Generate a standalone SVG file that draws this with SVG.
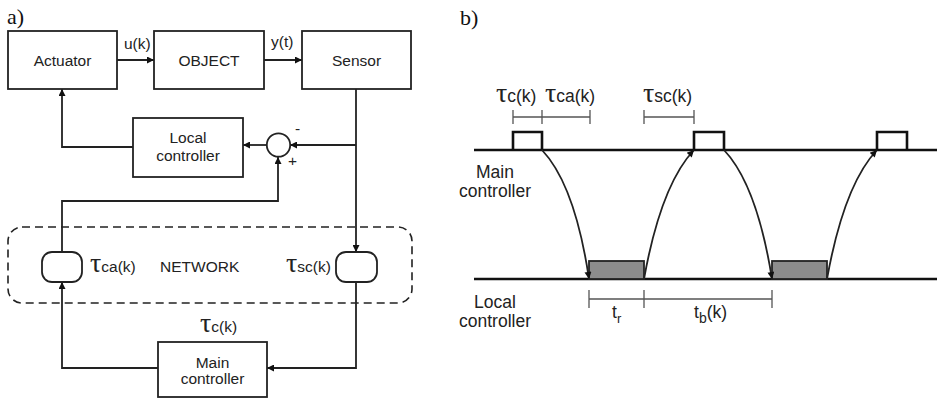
<svg xmlns="http://www.w3.org/2000/svg" width="937" height="399" viewBox="0 0 937 399">
<defs>
<style>
.box{fill:#fff;stroke:#222;stroke-width:1.8}
.ln{fill:none;stroke:#222;stroke-width:1.8}
.tl{fill:none;stroke:#111;stroke-width:2.6}
.dim{fill:none;stroke:#555;stroke-width:1.3}
.t{font-family:"Liberation Sans",Arial,sans-serif;font-size:15.5px;fill:#222}
.tr{font-family:"Liberation Sans",Arial,sans-serif;font-size:17.5px;fill:#222}
.tau{font-family:"Liberation Serif","Times New Roman",serif;font-size:28px}
.lab{font-family:"Liberation Serif","Times New Roman",serif;font-size:22px;fill:#111}
</style>
<marker id="ah" viewBox="0 0 10 10" refX="10" refY="5" markerWidth="9" markerHeight="7" markerUnits="userSpaceOnUse" orient="auto">
<path d="M0,0 L10,5 L0,10 z" fill="#111"/>
</marker>
</defs>
<rect width="937" height="399" fill="#fff"/>
<text class="lab" x="7" y="24">a)</text>
<text class="lab" x="460" y="25">b)</text>

<g id="connectors">
<path class="ln" d="M117,60 H154" marker-end="url(#ah)"/>
<path class="ln" d="M264,60 H302" marker-end="url(#ah)"/>
<path class="ln" d="M356,89 V252" marker-end="url(#ah)"/>
<path class="ln" d="M356,145 H290" marker-end="url(#ah)"/>
<path class="ln" d="M266,145 H243" marker-end="url(#ah)"/>
<path class="ln" d="M133,147 H62 V89" marker-end="url(#ah)"/>
<path class="ln" d="M62,252 V201 H278 V157" marker-end="url(#ah)"/>
<path class="ln" d="M158,368 H62 V282" marker-end="url(#ah)"/>
<path class="ln" d="M356,282 V368 H267" marker-end="url(#ah)"/>
</g>

<g id="network">
<rect x="8" y="227" width="404" height="76" rx="14" fill="none" stroke="#222" stroke-width="1.6" stroke-dasharray="8 5"/>
<text class="t" x="160" y="272">NETWORK</text>
</g>

<g id="actuator">
<rect class="box" x="8" y="31" width="109" height="58"/>
<text class="t" x="62.5" y="66" text-anchor="middle">Actuator</text>
</g>
<g id="object">
<rect class="box" x="154" y="31" width="110" height="58"/>
<text class="t" x="209" y="66" text-anchor="middle">OBJECT</text>
</g>
<g id="sensor">
<rect class="box" x="302" y="31" width="109" height="58"/>
<text class="t" x="356.5" y="66" text-anchor="middle">Sensor</text>
</g>
<text class="t" x="124" y="49">u(k)</text>
<text class="t" x="271" y="47">y(t)</text>

<g id="local-controller">
<rect class="box" x="133" y="118" width="110" height="59"/>
<text class="t" x="188" y="143" text-anchor="middle">Local</text>
<text class="t" x="188" y="161" text-anchor="middle">controller</text>
</g>
<g id="sum">
<circle cx="278.5" cy="145" r="11.7" class="box"/>
<text class="t" x="295" y="134">-</text>
<text class="t" x="288" y="166">+</text>
</g>
<g id="tau-ca">
<rect class="box" x="42" y="252" width="40" height="30" rx="10"/>
<text class="t" x="90" y="272"><tspan class="tau">τ</tspan>ca(k)</text>
</g>
<g id="tau-sc">
<rect class="box" x="336" y="252" width="41" height="30" rx="10"/>
<text class="t" x="286" y="272"><tspan class="tau">τ</tspan>sc(k)</text>
</g>
<g id="main-controller">
<rect class="box" x="158" y="342" width="109" height="55"/>
<text class="t" x="212.5" y="368" text-anchor="middle">Main</text>
<text class="t" x="212.5" y="384" text-anchor="middle">controller</text>
<text class="t" x="200" y="332"><tspan class="tau">τ</tspan>c(k)</text>
</g>

<g id="timeline-main">
<path class="tl" d="M474,150 H937"/>
<path class="tl" d="M513,150 V132 H542 V150 M694,150 V132 H724 V150 M877,150 V132 H907 V150" stroke-width="2"/>
<text class="tr" x="495" y="178" text-anchor="middle">Main</text>
<text class="tr" x="495" y="197" text-anchor="middle">controller</text>
</g>
<g id="timeline-local">
<path class="tl" d="M474,279 H937"/>
<rect x="589" y="261" width="55" height="18" fill="#8c8c8c" stroke="#222" stroke-width="1.8"/>
<rect x="772" y="261" width="55" height="18" fill="#8c8c8c" stroke="#222" stroke-width="1.8"/>
<text class="tr" x="495" y="308" text-anchor="middle">Local</text>
<text class="tr" x="495" y="327" text-anchor="middle">controller</text>
</g>
<g id="timing-arrows">
<path class="ln" stroke-width="2" d="M542,150 Q575,185 589,279" marker-end="url(#ah)"/>
<path class="ln" stroke-width="2" d="M644,279 Q661,185 694,150" marker-end="url(#ah)"/>
<path class="ln" stroke-width="2" d="M724,150 Q757,185 772,279" marker-end="url(#ah)"/>
<path class="ln" stroke-width="2" d="M827,279 Q844,185 877,150" marker-end="url(#ah)"/>
</g>
<g id="dimensions">
<path class="dim" d="M513,117 H590 M513,110 V124 M542,110 V124 M590,110 V124"/>
<path class="dim" d="M644,117 H694 M644,110 V124 M694,110 V124"/>
<path class="dim" d="M589,299 H772 M589,290 V308 M644,290 V308 M772,290 V308"/>
<text class="tr" x="496" y="102"><tspan class="tau">τ</tspan>c(k)</text>
<text class="tr" x="545" y="102"><tspan class="tau">τ</tspan>ca(k)</text>
<text class="tr" x="643" y="102"><tspan class="tau">τ</tspan>sc(k)</text>
<text class="tr" x="612" y="318">t<tspan font-size="13" dy="5">r</tspan></text>
<text class="tr" x="694" y="318">t<tspan font-size="14" dy="5">b</tspan><tspan dy="-5">(k)</tspan></text>
</g>
</svg>
